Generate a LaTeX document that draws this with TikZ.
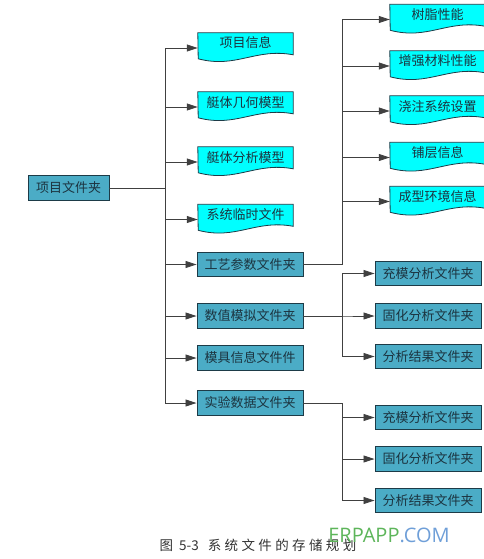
\documentclass[tikz,border=0pt]{standalone}
\usepackage{fontspec}
\setmainfont{Noto Sans CJK SC}
\newfontfamily\wmfont{Open Sans}
\usetikzlibrary{arrows.meta,backgrounds}

\definecolor{foldblue}{HTML}{4BACC6}
\definecolor{docfill}{HTML}{00FFFF}
\definecolor{boxline}{HTML}{1D3B47}
\definecolor{boxtext}{HTML}{1C3440}
\definecolor{wmgreen}{HTML}{5DB55A}
\definecolor{wmblue}{HTML}{6F9FD8}

\tikzset{
    boxfont/.style={font=\fontsize{13}{15}\selectfont, text=boxtext},
    foldernode/.style={boxfont, draw=boxline, fill=foldblue, line width=0.9pt,
      minimum width=106pt, minimum height=24.5pt, inner sep=0pt},
    docnode/.style={boxfont, minimum width=95pt, inner xsep=0pt, inner ysep=0pt,
      text height=15pt, text depth=15pt},
    docshape/.style={draw=boxline, fill=docfill, line width=0.8pt},
    arr/.style={-{Triangle[length=11pt,width=7pt]}, draw=black!75, line width=0.8pt}
}

\begin{document}
\begin{tikzpicture}[x=1pt,y=-1pt]
    \useasboundingbox (0,0) rectangle (483,559);

    \node[foldernode, minimum width=81pt] (root) at (68.5,188) {项目文件夹};

    \node[docnode] (info) at (245.5,48)  {项目信息};
    \node[docnode] (geom) at (245.5,107) {艇体几何模型};
    \node[docnode] (anal) at (245.5,162) {艇体分析模型};
    \node[docnode] (temp) at (245.5,219.5) {系统临时文件};
    \node[foldernode] (proc) at (250,264.5) {工艺参数文件夹};
    \node[foldernode] (sim)  at (250,316) {数值模拟文件夹};
    \node[foldernode] (mold) at (250,358) {模具信息文件件};
    \node[foldernode] (exp)  at (250,403) {实验数据文件夹};

    \node[docnode] (resin) at (437.5,19.5)  {树脂性能};
    \node[docnode] (fibre) at (437.5,66)    {增强材料性能};
    \node[docnode] (gate)  at (437.5,111)   {浇注系统设置};
    \node[docnode] (ply)   at (437.5,157.5) {铺层信息};
    \node[docnode] (env)   at (437.5,201.5) {成型环境信息};

    \node[foldernode] (fill1) at (428,273.5) {充模分析文件夹};
    \node[foldernode] (cure1) at (428,316)   {固化分析文件夹};
    \node[foldernode] (res1)  at (428,356.5) {分析结果文件夹};
    \node[foldernode] (fill2) at (428,417.5) {充模分析文件夹};
    \node[foldernode] (cure2) at (428,459)   {固化分析文件夹};
    \node[foldernode] (res2)  at (428,500.5) {分析结果文件夹};

    % document outlines with wavy bottom
    \begin{scope}[on background layer]
      \foreach \n in {info,geom,anal,temp,resin,fibre,gate,ply,env}
        \filldraw[docshape] (\n.north west) -- (\n.north east) -- ++(0,22)
          .. controls +(-38,-7) and +(38,10) .. ++(-95,4) -- cycle;
    \end{scope}

    \coordinate (j1) at (165,188);
    \coordinate (j2) at (342,264.5);
    \coordinate (j3) at (342,316);
    \coordinate (j4) at (342,403);

    \foreach \c in {info,geom,anal,temp,proc,sim,mold,exp}
      \draw[arr] (root.east) -- (j1) |- (\c.west);
    \foreach \c in {resin,fibre,gate,ply,env}
      \draw[arr] (proc.east) -- (j2) |- (\c.west);
    \foreach \c in {fill1,cure1,res1}
      \draw[arr] (sim.east) -- (j3) |- (\c.west);
    \foreach \c in {fill2,cure2,res2}
      \draw[arr] (exp.east) -- (j4) |- (\c.west);

    \node[font=\fontsize{13.5}{15}\selectfont, text=black!80] (cap) at (258,545)
      {图\hspace{6pt}5-3\hspace{9pt}{\addfontfeature{LetterSpace=25}系统文件的存储规划}};
    \node[font=\wmfont\fontsize{20}{22}\selectfont] (wm) at (389,535)
      {\textcolor{wmgreen}{ERPAPP}\textcolor{wmblue}{.COM}};
\end{tikzpicture}
\end{document}
